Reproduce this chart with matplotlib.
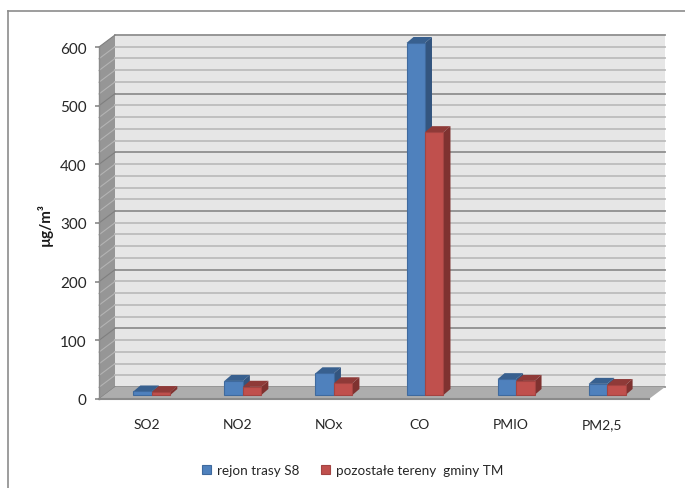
import matplotlib
matplotlib.use("Agg")
import matplotlib.pyplot as plt
from matplotlib.patches import Polygon, Rectangle
from matplotlib.lines import Line2D
from matplotlib.transforms import Affine2D, IdentityTransform

categories = ["SO2", "NO2", "NOx", "CO", "PMIO", "PM2,5"]
rejon_s8 = [6, 24, 37, 600, 27, 19]
pozostale = [5, 14, 20, 448, 24, 17]
series_names = ["rejon trasy S8", "pozostałe tereny  gminy TM"]
y_major = [0, 100, 200, 300, 400, 500, 600]
y_minor = list(range(0, 620, 20))

W, H = 685, 489
plt.rcParams['font.family'] = ['Lato', 'DejaVu Sans']

fig = plt.figure(figsize=(W / 100, H / 100), dpi=100)
ax = fig.add_axes([99 / W, (H - 400) / H, 550 / W, 352 / H])
ax.set_xlim(-0.58, 5.46)
ax.set_ylim(0, 600)
ax.patch.set_visible(False)
for s in ax.spines.values():
    s.set_visible(False)

# everything 3D is a pixel offset away from the data position
WALL_DX, WALL_DY = 16, 12
BAR_DX, BAR_DY = 7, 6
BAR_UP = 4  # bars sit on the floor, a bit above the axis line
BAR_W = 0.203
_up = Affine2D().translate(0, BAR_UP)


def px(x, y, dx=0, dy=0):
    p = ax.transData.transform((x, y))
    return (p[0] + dx, p[1] + dy)


def poly(points, color, z):
    ax.add_patch(Polygon(points, closed=True, facecolor=color, edgecolor="none", lw=0,
                         transform=IdentityTransform(), zorder=z, clip_on=False))


def seg(p, q, color, lw, z):
    ax.add_line(Line2D([p[0], q[0]], [p[1], q[1]], color=color, lw=lw,
                       transform=IdentityTransform(), zorder=z, clip_on=False))


x0, x1 = ax.get_xlim()

# outer frame, open on the right like the reference crop
fig.add_artist(Line2D([8 / W, 8 / W], [0, 1 - 12 / H], color="#8c8c8c", lw=1.2))
fig.add_artist(Line2D([8 / W, 1], [1 - 12 / H, 1 - 12 / H], color="#8c8c8c", lw=1.2))

# walls and floor
poly([px(x0, 0, WALL_DX, WALL_DY), px(x1, 0, WALL_DX, WALL_DY),
      px(x1, 600, WALL_DX, WALL_DY), px(x0, 600, WALL_DX, WALL_DY)], "#e6e6e6", 1)
poly([px(x0, 0), px(x0, 0, WALL_DX, WALL_DY),
      px(x0, 600, WALL_DX, WALL_DY), px(x0, 600)], "#969696", 1)
poly([px(x0, 0), px(x1, 0), px(x1, 0, WALL_DX, WALL_DY), px(x0, 0, WALL_DX, WALL_DY)],
     "#adadad", 2)

# gridlines run along the side wall and the back wall
for v in y_minor:
    major = v in y_major
    seg(px(x0, v, WALL_DX, WALL_DY), px(x1, v, WALL_DX, WALL_DY),
        "#8f8f8f" if major else "#bdbdbd", 1.3, 1.5)
    seg(px(x0, v), px(x0, v, WALL_DX, WALL_DY),
        "#7f7f7f" if major else "#b4b4b4", 0.8, 1.5)
seg(px(x0, 0), px(x1, 0), "#8a8a8a", 1.5, 3)
seg(px(x0, 0), px(x0, 600), "#8a8a8a", 1.0, 3)


def bar3d(i, offset, value, front, top, side, edge):
    left = i + offset
    right = left + BAR_W
    z = 5 + i + (offset > -0.1) * 0.5
    poly([px(left, value, 0, BAR_UP), px(right, value, 0, BAR_UP),
          px(right, value, BAR_DX, BAR_UP + BAR_DY), px(left, value, BAR_DX, BAR_UP + BAR_DY)],
         top, z)
    poly([px(right, 0, 0, BAR_UP), px(right, 0, BAR_DX, BAR_UP + BAR_DY),
          px(right, value, BAR_DX, BAR_UP + BAR_DY), px(right, value, 0, BAR_UP)],
         side, z)
    rect = Rectangle((left, 0), BAR_W, value, facecolor=front, edgecolor=edge, lw=0.8,
                     transform=ax.transData + _up, zorder=z + 0.1, clip_on=False)
    ax.add_patch(rect)
    return rect


handles = [None, None]
for i in range(len(categories)):
    handles[0] = bar3d(i, -BAR_W, rejon_s8[i], "#4f81bd", "#38608f", "#33557f", "#3f6a9e")
    handles[1] = bar3d(i, 0, pozostale[i], "#c0504d", "#8f3a38", "#7f3230", "#a34442")

ax.set_xticks(range(len(categories)), categories)
ax.tick_params(axis="x", length=0, pad=21, labelsize=10, labelcolor="#262626")
# labels sit a few pixels left of the bars, same baseline for all
shift = Affine2D().translate(-5, 0)
for lab in ax.get_xticklabels():
    lab.set_va("baseline")
    lab.set_transform(lab.get_transform() + shift)
ax.set_yticks(y_major)
ax.tick_params(axis="y", length=3, width=1.2, color="#8a8a8a", pad=6,
               labelsize=11, labelcolor="#262626")
fig.text(45 / W, 1 - 225 / H, "µg/m³", rotation=90, ha="center", va="center",
         fontsize=11, fontweight="bold", color="#1a1a1a")

fig.legend(handles, series_names, loc="center", bbox_to_anchor=(352.5 / W, 1 - 471 / H),
           ncol=2, frameon=False, fontsize=9.7, handlelength=0.7, handleheight=0.7,
           handletextpad=0.4, columnspacing=1.6, labelcolor="#262626")

fig.savefig("out.png", dpi=100)
